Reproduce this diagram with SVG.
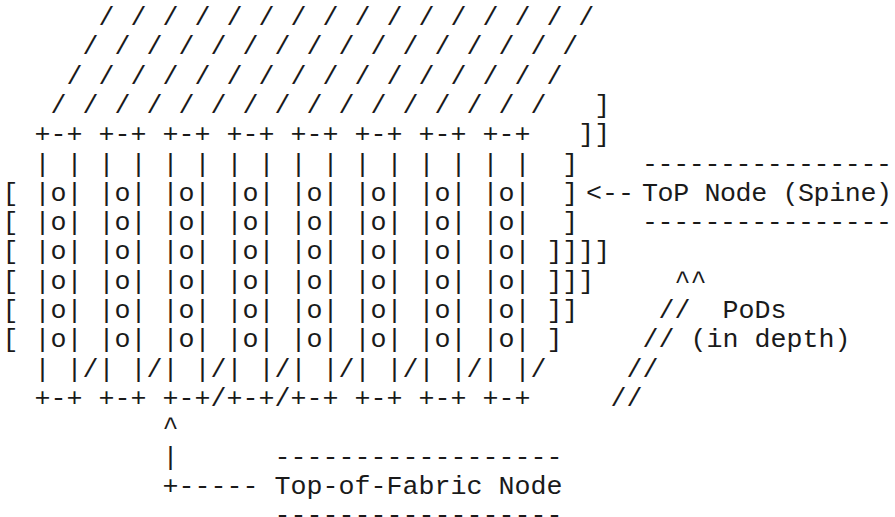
<svg xmlns="http://www.w3.org/2000/svg" width="895" height="517" viewBox="0 0 895 517" xml:space="preserve">
<style>
text { font-family: "Liberation Mono", "Courier New", monospace; font-size: 26.667px; fill: #1a1a1a; white-space: pre; }
</style>
<rect width="895" height="517" fill="#fff"/>
<g id="pod-planes">
<text x="2.5" y="25">      / / / / / / / / / / / / / / / /</text>
<text x="2.5" y="54.3">     / / / / / / / / / / / / / / / /</text>
<text x="2.5" y="83.6">    / / / / / / / / / / / / / / / /</text>
<text x="2.5" y="112.9">   / / / / / / / / / / / / / / / /   ]</text>
</g>
<g id="tof-nodes">
<text x="2.5" y="142.2">  +-+ +-+ +-+ +-+ +-+ +-+ +-+ +-+   ]]</text>
<text x="2.5" y="171.5">  | | | | | | | | | | | | | | | |  ]</text>
<text x="2.5" y="200.8">[ |o| |o| |o| |o| |o| |o| |o| |o|  ]</text>
<text x="2.5" y="230.1">[ |o| |o| |o| |o| |o| |o| |o| |o|  ]</text>
<text x="2.5" y="259.4">[ |o| |o| |o| |o| |o| |o| |o| |o| ]]]]</text>
<text x="2.5" y="288.7">[ |o| |o| |o| |o| |o| |o| |o| |o| ]]]</text>
<text x="2.5" y="318">[ |o| |o| |o| |o| |o| |o| |o| |o| ]]</text>
<text x="2.5" y="347.3">[ |o| |o| |o| |o| |o| |o| |o| |o| ]</text>
<text x="2.5" y="376.6">  | |/| |/| |/| |/| |/| |/| |/| |/</text>
<text x="2.5" y="405.9">  +-+ +-+ +-+/+-+/+-+ +-+ +-+ +-+</text>
</g>
<g id="connectors">
<text x="586" y="200.8">&lt;--</text>
<text x="674.5" y="288.7">^^</text>
<text x="658.5" y="318">//</text>
<text x="642.5" y="347.3">//</text>
<text x="626.5" y="376.6">//</text>
<text x="610.5" y="405.9">//</text>
<text x="162.5" y="435.2">^</text>
<text x="162.5" y="464.5">|</text>
<text x="162.5" y="493.8">+-----</text>
</g>
<g id="label-tof-spine">
<text x="642" y="171.5" textLength="250" lengthAdjust="spacing">----------------</text>
<text x="642" y="200.8" textLength="250" lengthAdjust="spacing">ToP Node (Spine)</text>
<text x="642" y="230.1" textLength="250" lengthAdjust="spacing">----------------</text>
</g>
<g id="label-pods">
<text x="722.5" y="318">PoDs</text>
<text x="690.5" y="347.3">(in depth)</text>
</g>
<g id="label-top-of-fabric">
<text x="274.5" y="464.5">------------------</text>
<text x="274.5" y="493.8">Top-of-Fabric Node</text>
<text x="274.5" y="523.1">------------------</text>
</g>
</svg>
